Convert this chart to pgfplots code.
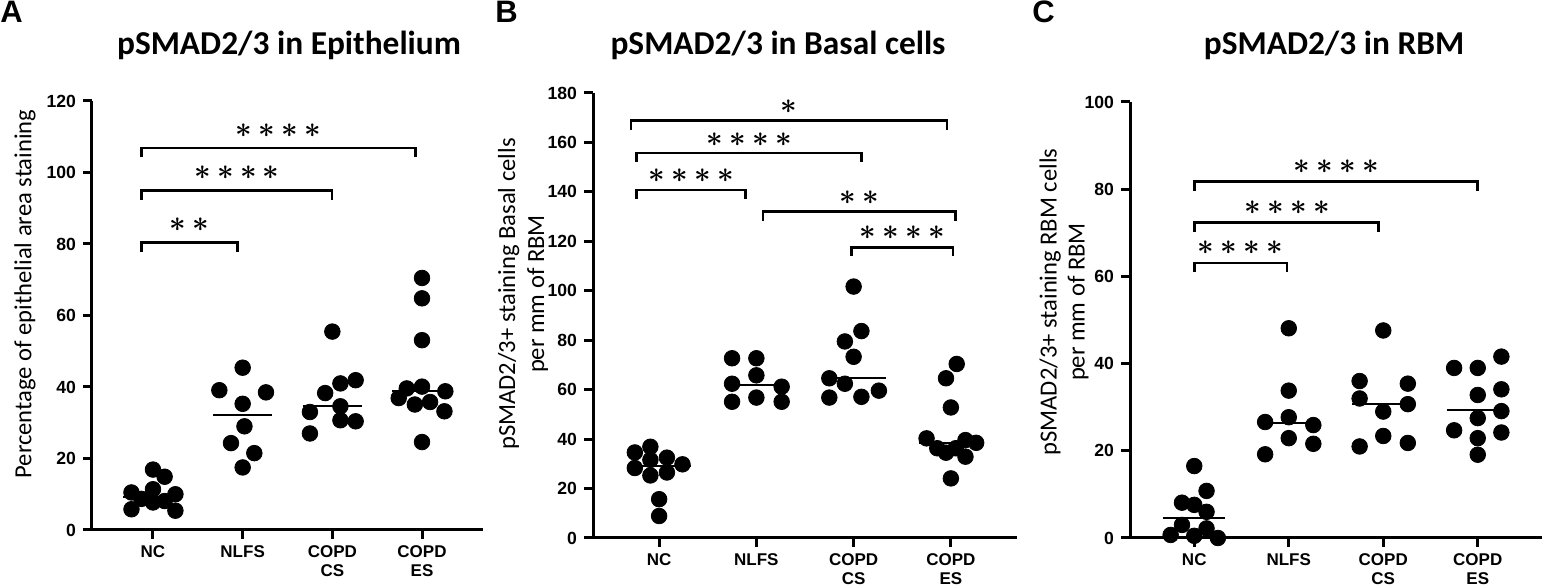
\documentclass[border=0pt]{standalone}
\usepackage{fontspec}
\setmainfont{Carlito}
\newfontfamily\lsans{Liberation Sans}
\usepackage{pgfplots}
\pgfplotsset{compat=1.18}

\newcommand\sz{\fontsize{13.5}{13.5}\selectfont\boldmath}
\newcommand\sone{{\sz$\ast$}}
\newcommand\stwo{{\sz$\ast$\hspace{3.2pt}$\ast$}}
\newcommand\sfour{{\sz$\ast$\hspace{3.2pt}$\ast$\hspace{3.2pt}$\ast$\hspace{3.2pt}$\ast$}}

\tikzset{
  brk/.style={line width=1.3pt, black},
  st/.style={inner sep=0pt, anchor=center},
}
\pgfplotsset{
  panel/.style={
    scale only axis, anchor=south west,
    xmin=-0.68, xmax=3.68, ymin=0,
    axis x line=bottom, axis y line=left,
    axis line style={-, line width=1.5pt},
    xtick={0,1,2,3},
    xticklabels={NC,NLFS,{COPD\\CS},{COPD\\ES}},
    xticklabel style={align=center, font=\lsans\bfseries\fontsize{8.5}{9.5}\selectfont},
    yticklabel style={font=\lsans\bfseries\fontsize{8.8}{10}\selectfont},
    /pgf/number format/assume math mode=true,
    tick align=outside, major tick length=4.5pt,
    tick style={line width=1.5pt, black},
    clip=false,
  },
  dots/.style={only marks, mark=*, mark size=3.9pt, black, mark options={fill=black, draw=black}},
  med/.style={black, line width=1pt, no marks},
}

\begin{document}
\begin{tikzpicture}
\path[use as bounding box] (0,0) rectangle (774pt,294pt);

% ---------------- Panel A ----------------
\begin{axis}[panel, at={(46pt,29pt)}, width=195.5pt, height=214.5pt,
  ymax=120, ytick={0,20,...,120}]
\addplot[dots] coordinates {(0,16.9) (0.13,14.9) (-0.24,10.5) (0,11.4) (0.25,10.0) (-0.13,8.7) (0,7.7) (0.13,8.1) (-0.24,5.8) (0.25,5.4)};
\addplot[dots] coordinates {(1,45.4) (0.74,39.1) (1.26,38.5) (1,35.3) (1.02,29.0) (0.87,24.3) (1.13,21.5) (1,17.5)};
\addplot[dots] coordinates {(2,55.5) (2.26,41.9) (2.09,41.0) (1.92,38.3) (1.75,33.0) (2.09,34.6) (2.09,30.7) (2.26,30.4) (1.75,27.0)};
\addplot[dots] coordinates {(3,70.5) (3,64.8) (3,53.1) (3,40.1) (2.83,39.6) (3.26,38.8) (2.74,36.9) (3.09,35.8) (2.92,35.1) (3.25,33.2) (3,24.6)};
\addplot[med] coordinates {(-0.33,9.3) (0.33,9.3)};
\addplot[med] coordinates {(0.67,32.3) (1.33,32.3)};
\addplot[med] coordinates {(1.67,34.6) (2.33,34.6)};
\addplot[med] coordinates {(2.67,38.8) (3.33,38.8)};
\draw[brk] (axis cs:-0.13,77.9) -- (axis cs:-0.13,80.5) -- (axis cs:0.944,80.5) -- (axis cs:0.944,77.9);
\draw[brk] (axis cs:-0.13,92.4) -- (axis cs:-0.13,95) -- (axis cs:1.996,95) -- (axis cs:1.996,92.4);
\draw[brk] (axis cs:-0.13,104.2) -- (axis cs:-0.13,106.8) -- (axis cs:2.93,106.8) -- (axis cs:2.93,104.2);
\node[st] at (axis cs:0.41,85.4) {\stwo};
\node[st] at (axis cs:0.935,100) {\sfour};
\node[st] at (axis cs:1.4,111.6) {\sfour};
\end{axis}

% ---------------- Panel B ----------------
\begin{axis}[panel, at={(296.5pt,25pt)}, width=212pt, height=222.5pt,
  ymax=180, ytick={0,20,...,180}]
\addplot[dots] coordinates {(-0.09,36.9) (-0.25,34.6) (0.08,32.5) (-0.09,31.6) (0.24,29.8) (-0.25,28.3) (0.08,26.5) (-0.09,25.3) (0,15.7) (0,8.9)};
\addplot[dots] coordinates {(0.75,72.7) (1,72.7) (1,65.8) (0.75,62.4) (1.26,61.2) (1,56.8) (0.75,55.1) (1.26,55.1)};
\addplot[dots] coordinates {(2,101.7) (2.08,83.7) (1.91,79.5) (2,73.3) (1.75,64.6) (1.91,62.4) (2.26,59.6) (2.08,57.1) (1.75,56.8)};
\addplot[dots] coordinates {(3.06,70.4) (2.95,64.6) (3,52.8) (2.75,40.3) (3.15,39.6) (3.26,38.5) (2.86,36.3) (3.05,36.3) (2.95,34.5) (3.15,32.9) (3,24.1)};
\addplot[med] coordinates {(-0.33,29.1) (0.33,29.1)};
\addplot[med] coordinates {(0.67,61.9) (1.33,61.9)};
\addplot[med] coordinates {(1.67,64.9) (2.33,64.9)};
\addplot[med] coordinates {(2.67,38.5) (3.33,38.5)};
\draw[brk] (axis cs:-0.29,165.2) -- (axis cs:-0.29,168.8) -- (axis cs:2.96,168.8) -- (axis cs:2.96,165.2);
\draw[brk] (axis cs:-0.23,152.2) -- (axis cs:-0.23,155.8) -- (axis cs:2.08,155.8) -- (axis cs:2.08,152.2);
\draw[brk] (axis cs:-0.23,137.2) -- (axis cs:-0.23,140.8) -- (axis cs:0.89,140.8) -- (axis cs:0.89,137.2);
\draw[brk] (axis cs:1.07,128.4) -- (axis cs:1.07,132.0) -- (axis cs:3.05,132.0) -- (axis cs:3.05,128.4);
\draw[brk] (axis cs:1.98,114.0) -- (axis cs:1.98,117.6) -- (axis cs:3.02,117.6) -- (axis cs:3.02,114.0);
\node[st] at (axis cs:1.33,174.4) {\sone};
\node[st] at (axis cs:0.93,161.2) {\sfour};
\node[st] at (axis cs:0.33,146.7) {\sfour};
\node[st] at (axis cs:2.06,137.7) {\stwo};
\node[st] at (axis cs:2.5,123.4) {\sfour};
\end{axis}

% ---------------- Panel C ----------------
\begin{axis}[panel, at={(565pt,25pt)}, width=206pt, height=218pt,
  ymax=100, ytick={0,20,...,100}]
\addplot[dots] coordinates {(0,16.5) (0.13,10.8) (-0.13,8.1) (0,7.6) (0.13,6.0) (-0.13,3.0) (0.13,2.2) (-0.25,0.7) (0,0.5) (0.25,0)};
\addplot[dots] coordinates {(1,48.1) (1,33.8) (1,27.7) (0.75,26.6) (1.26,25.9) (1,22.9) (1.26,21.6) (0.75,19.2)};
\addplot[dots] coordinates {(2,47.6) (1.75,36.0) (2.26,35.4) (1.75,32.0) (2.26,30.7) (2,29.0) (2,23.4) (2.26,21.8) (1.75,21.0)};
\addplot[dots] coordinates {(3.25,41.6) (2.75,39.0) (3,39.0) (3.25,34.1) (3,32.8) (3.25,29.1) (3,27.5) (2.75,24.7) (3.25,24.2) (3,22.9) (3,19.1)};
\addplot[med] coordinates {(-0.33,4.5) (0.33,4.5)};
\addplot[med] coordinates {(0.67,26.3) (1.33,26.3)};
\addplot[med] coordinates {(1.67,30.7) (2.33,30.7)};
\addplot[med] coordinates {(2.67,29.4) (3.33,29.4)};
\draw[brk] (axis cs:0,61.0) -- (axis cs:0,63.1) -- (axis cs:0.98,63.1) -- (axis cs:0.98,61.0);
\draw[brk] (axis cs:0,70.2) -- (axis cs:0,72.3) -- (axis cs:1.95,72.3) -- (axis cs:1.95,70.2);
\draw[brk] (axis cs:0,79.7) -- (axis cs:0,81.8) -- (axis cs:3.0,81.8) -- (axis cs:3.0,79.7);
\node[st] at (axis cs:0.49,66.5) {\sfour};
\node[st] at (axis cs:0.98,75.8) {\sfour};
\node[st] at (axis cs:1.5,85.2) {\sfour};
\end{axis}

% ---------------- Titles, labels, panel letters ----------------
\node[anchor=base, font=\bfseries\fontsize{16.7}{19}\selectfont] at (144.5pt,266.5pt) {pSMAD2/3 in Epithelium};
\node[anchor=base, font=\bfseries\fontsize{16.7}{19}\selectfont] at (389pt,266.5pt) {pSMAD2/3 in Basal cells};
\node[anchor=base, font=\bfseries\fontsize{16.7}{19}\selectfont] at (667pt,266.5pt) {pSMAD2/3 in RBM};

\node[rotate=90, font=\fontsize{12.3}{13}\selectfont] at (12.5pt,147pt) {Percentage of epithelial area staining};
\node[rotate=90, align=center, font=\fontsize{12.3}{14.5}\selectfont] at (261.5pt,147pt) {pSMAD2/3+ staining Basal cells\\per mm of RBM};
\node[rotate=90, align=center, font=\fontsize{12.3}{14}\selectfont] at (532pt,143pt) {pSMAD2/3+ staining RBM cells\\per mm of RBM};

\node[anchor=base west, inner sep=0pt, font=\lsans\bfseries\fontsize{15.5}{15.5}\selectfont] at (0pt,282.5pt) {A};
\node[anchor=base west, inner sep=0pt, font=\lsans\bfseries\fontsize{15.5}{15.5}\selectfont] at (247.5pt,282.5pt) {B};
\node[anchor=base west, inner sep=0pt, font=\lsans\bfseries\fontsize{15.5}{15.5}\selectfont] at (516pt,282.5pt) {C};
\end{tikzpicture}
\end{document}
